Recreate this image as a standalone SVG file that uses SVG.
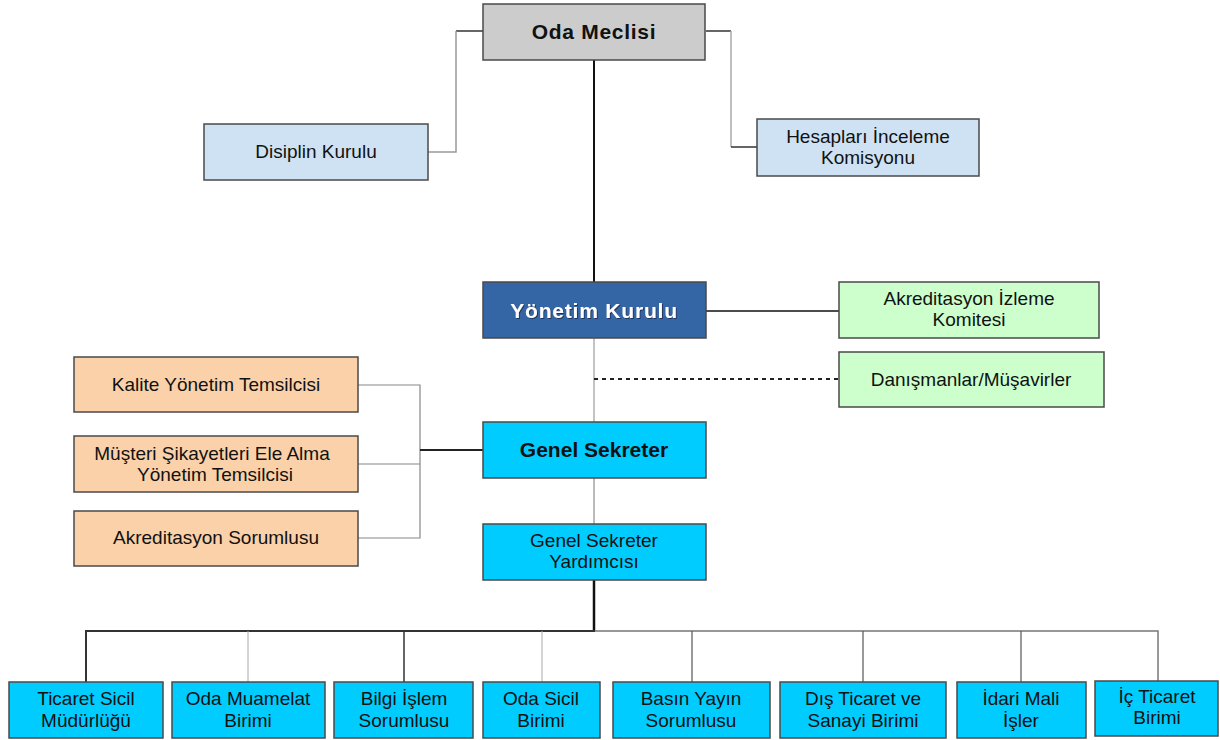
<svg xmlns="http://www.w3.org/2000/svg" width="1220" height="740" viewBox="0 0 1220 740">
<defs>
<style>
.box{stroke:#4a4a4a;stroke-width:1.5}
.gray{fill:#cccccc}
.lblue{fill:#cfe2f3}
.dblue{fill:#3465a4}
.green{fill:#ccffcc}
.orange{fill:#fad1a9}
.cyan{fill:#00ccff}
text{font-family:"Liberation Sans",Arial,sans-serif;font-size:19px;fill:#111;text-anchor:middle}
.b{font-weight:bold;font-size:21px}
.w{fill:#ffffff}
.c{fill:none}
</style>
<filter id="sh" x="-10%" y="-30%" width="120%" height="160%">
<feDropShadow dx="1" dy="1" stdDeviation="0.6" flood-color="#1a2f55" flood-opacity="0.9"/>
</filter>
</defs>
<rect width="1220" height="740" fill="#ffffff"/>
<g id="connectors" class="c">
<path d="M483 31H456" stroke="#333" stroke-width="1.5"/>
<path d="M456 31V152H428" stroke="#999" stroke-width="1.5"/>
<path d="M706 31H731" stroke="#333" stroke-width="1.5"/>
<path d="M731 31V147" stroke="#aaa" stroke-width="1.5"/>
<path d="M731 147H757" stroke="#333" stroke-width="1.5"/>
<path d="M594 60V282" stroke="#111" stroke-width="2"/>
<path d="M706 311H839" stroke="#111" stroke-width="1.5"/>
<path d="M594 338V422" stroke="#888" stroke-width="1"/>
<path d="M594 379H839" stroke="#222" stroke-width="2" stroke-dasharray="4,4"/>
<path d="M358 385H420V538H358" stroke="#888" stroke-width="1.2"/>
<path d="M358 464H420" stroke="#888" stroke-width="1.2"/>
<path d="M420 450H483" stroke="#222" stroke-width="2.2"/>
<path d="M594 478V524" stroke="#777" stroke-width="1"/>
<path d="M594 580V631" stroke="#111" stroke-width="2.5"/>
<path d="M594 631H1158V681" stroke="#777" stroke-width="1.5"/>
<path d="M595 631H86V682" stroke="#333" stroke-width="2"/>
<path d="M248 631V682" stroke="#aaa" stroke-width="1"/>
<path d="M404 631V682" stroke="#333" stroke-width="1.5"/>
<path d="M542 631V682" stroke="#aaa" stroke-width="1"/>
<path d="M692 631V682" stroke="#555" stroke-width="1.2"/>
<path d="M863 631V682" stroke="#555" stroke-width="1.2"/>
<path d="M1021 631V682" stroke="#555" stroke-width="1.2"/>
</g>
<g id="oda-meclisi"><rect class="box gray" x="483" y="4" width="222" height="56"/><text class="b" x="594" y="39" letter-spacing="0.7">Oda Meclisi</text></g>
<g id="disiplin-kurulu"><rect class="box lblue" x="204" y="124" width="224" height="56"/><text x="316" y="158">Disiplin Kurulu</text></g>
<g id="hesaplari-inceleme"><rect class="box lblue" x="757" y="119" width="222" height="57"/><text x="868" y="143">Hesapları İnceleme</text><text x="868" y="164">Komisyonu</text></g>
<g id="yonetim-kurulu"><rect class="box dblue" x="483" y="282" width="223" height="56"/><text class="b w" x="594" y="318" letter-spacing="0.8" filter="url(#sh)">Yönetim Kurulu</text></g>
<g id="akreditasyon-izleme"><rect class="box green" x="839" y="282" width="260" height="56"/><text x="969" y="305">Akreditasyon İzleme</text><text x="969" y="326">Komitesi</text></g>
<g id="danismanlar"><rect class="box green" x="839" y="352" width="265" height="55"/><text x="971" y="386">Danışmanlar/Müşavirler</text></g>
<g id="kalite"><rect class="box orange" x="74" y="357" width="284" height="55"/><text x="216" y="391">Kalite Yönetim Temsilcisi</text></g>
<g id="musteri"><rect class="box orange" x="74" y="436" width="284" height="56"/><text x="212" y="460">Müşteri Şikayetleri Ele Alma</text><text x="215" y="481">Yönetim Temsilcisi</text></g>
<g id="akreditasyon-sorumlusu"><rect class="box orange" x="74" y="511" width="284" height="55"/><text x="216" y="544">Akreditasyon Sorumlusu</text></g>
<g id="genel-sekreter"><rect class="box cyan" x="483" y="422" width="223" height="56"/><text class="b" x="594" y="457">Genel Sekreter</text></g>
<g id="genel-sekreter-yardimcisi"><rect class="box cyan" x="483" y="524" width="223" height="56"/><text x="594" y="547">Genel Sekreter</text><text x="594" y="568">Yardımcısı</text></g>
<g id="ticaret-sicil"><rect class="box cyan" x="9" y="682" width="154" height="56"/><text x="86" y="705">Ticaret Sicil</text><text x="86" y="727">Müdürlüğü</text></g>
<g id="oda-muamelat"><rect class="box cyan" x="172" y="682" width="153" height="56"/><text x="248" y="705">Oda Muamelat</text><text x="248" y="727">Birimi</text></g>
<g id="bilgi-islem"><rect class="box cyan" x="334" y="682" width="139" height="56"/><text x="404" y="705">Bilgi İşlem</text><text x="404" y="727">Sorumlusu</text></g>
<g id="oda-sicil"><rect class="box cyan" x="483" y="682" width="117" height="56"/><text x="541" y="705">Oda Sicil</text><text x="541" y="727">Birimi</text></g>
<g id="basin-yayin"><rect class="box cyan" x="613" y="682" width="157" height="56"/><text x="691" y="705">Basın Yayın</text><text x="691" y="727">Sorumlusu</text></g>
<g id="dis-ticaret"><rect class="box cyan" x="780" y="682" width="166" height="56"/><text x="863" y="705">Dış Ticaret ve</text><text x="863" y="727">Sanayi Birimi</text></g>
<g id="idari-mali"><rect class="box cyan" x="957" y="682" width="129" height="56"/><text x="1021" y="705">İdari Mali</text><text x="1021" y="727">İşler</text></g>
<g id="ic-ticaret"><rect class="box cyan" x="1095" y="681" width="123" height="55"/><text x="1157" y="703">İç Ticaret</text><text x="1157" y="724">Birimi</text></g>
</svg>
